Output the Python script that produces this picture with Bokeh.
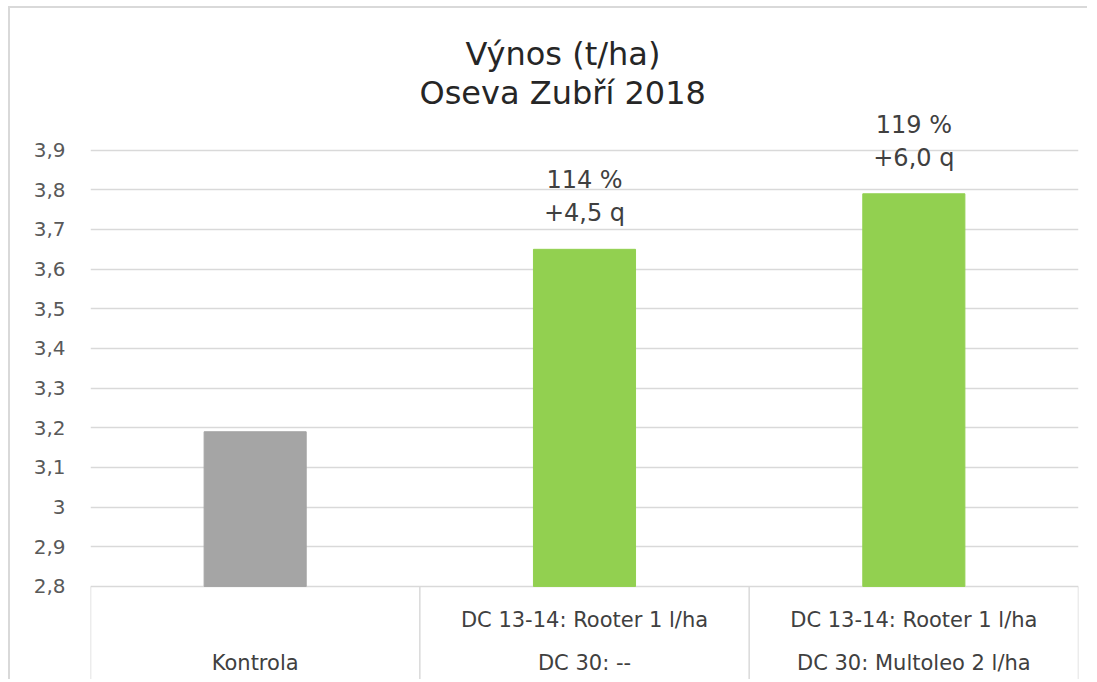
from bokeh.plotting import figure
from bokeh.models import FactorRange, Range1d, FixedTicker, CustomJSTickFormatter, Title, ColumnDataSource
from bokeh.core.properties import value
from bokeh.embed import file_html
from bokeh.resources import INLINE

# ---- data ----
categories = ["Kontrola", "DC 30: --", "DC 30: Multoleo 2 l/ha"]
row1_labels = ["", "DC 13-14: Rooter 1 l/ha", "DC 13-14: Rooter 1 l/ha"]
yields = [3.19, 3.65, 3.79]
bar_colors = ["#a5a5a5", "#92d050", "#92d050"]
pct_labels = ["114 %", "119 %"]
diff_labels = ["+4,5 q", "+6,0 q"]
y_ticks = [2.8, 2.9, 3.0, 3.1, 3.2, 3.3, 3.4, 3.5, 3.6, 3.7, 3.8, 3.9]
y_tick_labels = ["2,8", "2,9", "3", "3,1", "3,2", "3,3", "3,4", "3,5", "3,6", "3,7", "3,8", "3,9"]
title_text = "Výnos (t/ha)"
subtitle_text = "Oseva Zubří 2018"

FONT = "DejaVu Sans"
Y_MIN_AXIS = 2.8
Y_TOP = 4.0
Y_BOTTOM = 2.5603
PX_PER_UNIT = 396.6

def y_below(px):
    # value located px pixels below the 2,8 baseline (table area)
    return Y_MIN_AXIS - px / PX_PER_UNIT

p = figure(width=1079, height=673, output_backend="svg", toolbar_location=None,
           x_range=FactorRange(factors=categories, range_padding=0),
           y_range=Range1d(Y_BOTTOM, Y_TOP),
           x_axis_location=None, title=title_text,
           min_border_left=80, min_border_right=11, min_border_top=102, min_border_bottom=0,
           styles={"margin-left": "8px", "margin-top": "6px",
                   "border-left": "2px solid #d9d9d9", "border-top": "2px solid #d9d9d9"})

p.background_fill_color = "white"
p.border_fill_color = "white"
p.outline_line_color = None
p.xgrid.grid_line_color = None
p.ygrid.grid_line_color = "#d9d9d9"
p.ygrid.grid_line_width = 1.5

# titles (the added Title sits nearest to the plot)
p.title.text_font = FONT
p.title.text_font_size = "32px"
p.title.text_font_style = "normal"
p.title.text_color = "#262626"
p.title.align = "left"
p.title.offset = 375
p.title.standoff = 1
t1 = Title(text=subtitle_text, text_font=FONT, text_font_size="32px", text_font_style="normal",
           text_color="#262626", align="left", offset=329, standoff=-3)
p.add_layout(t1, "above")

# y axis
ax = p.yaxis[0]
ax.ticker = FixedTicker(ticks=y_ticks)
ax.formatter = CustomJSTickFormatter(args=dict(tvals=y_ticks, tlabs=y_tick_labels), code="""
const i = tvals.findIndex(t => Math.abs(t - tick) < 1e-6);
return i >= 0 ? tlabs[i] : '';
""")
ax.axis_line_color = None
ax.major_tick_line_color = None
ax.minor_tick_line_color = None
ax.major_tick_out = 0
ax.major_label_standoff = 25
ax.major_label_text_font = FONT
ax.major_label_text_font_size = "20px"
ax.major_label_text_color = "#595959"

# bars
src = ColumnDataSource(dict(x=categories, top=yields, color=bar_colors))
p.vbar(x="x", top="top", bottom=Y_MIN_AXIS, width=0.31, color="color", source=src)

# bar annotations (treated bars only)
ann = ColumnDataSource(dict(x=categories[1:], y=yields[1:], pct=pct_labels, diff=diff_labels))
p.text(x="x", y="y", text="diff", source=ann, text_align="center", text_baseline="alphabetic",
       y_offset=-36, text_font=value(FONT), text_font_size="24px", text_color="#404040")
p.text(x="x", y="y", text="pct", source=ann, text_align="center", text_baseline="alphabetic",
       y_offset=-69, text_font=value(FONT), text_font_size="24px", text_color="#404040")

# category table below the axis
sep_x = [(c, -0.5) for c in categories] + [(categories[-1], 0.5)]
p.segment(x0=sep_x, x1=sep_x, y0=[Y_MIN_AXIS] * len(sep_x), y1=[Y_BOTTOM] * len(sep_x),
          line_color="#d9d9d9", line_width=1.5)
p.text(x=categories, y=[y_below(34)] * 3, text=row1_labels, text_align="center",
       text_baseline="middle", text_font=value(FONT), text_font_size="21px", text_color="#404040")
p.text(x=categories, y=[y_below(77)] * 3, text=categories, text_align="center",
       text_baseline="middle", text_font=value(FONT), text_font_size="21px", text_color="#404040")

open("out.html", "w").write(file_html(p, INLINE))
